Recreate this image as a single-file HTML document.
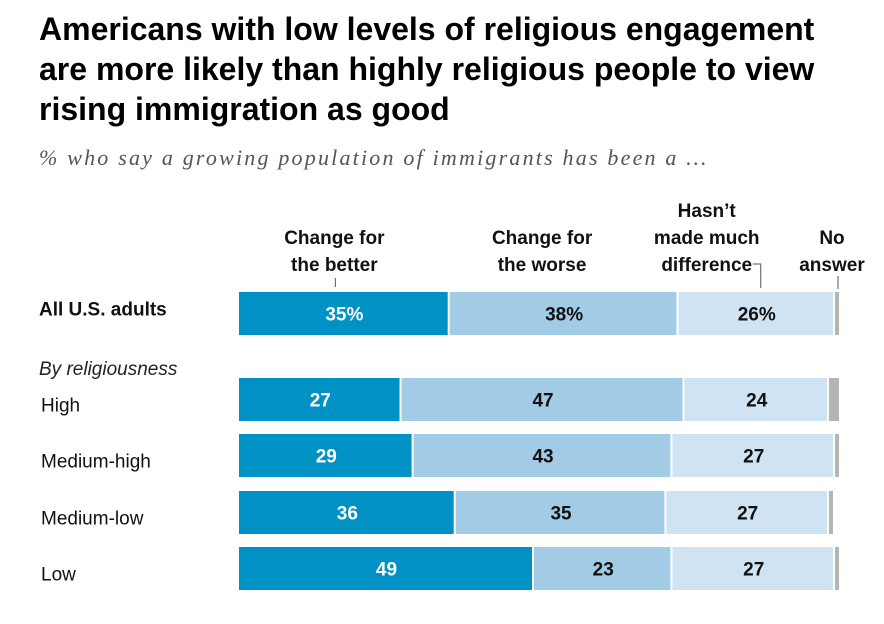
<!DOCTYPE html>
<html><head><meta charset="utf-8"><style>
body{margin:0;background:#fff;width:884px;height:624px;overflow:hidden;font-family:"Liberation Sans",sans-serif}
#title{position:absolute;left:39px;top:9px;font-size:32px;font-weight:bold;line-height:40px;color:#000;letter-spacing:0px;white-space:nowrap}
#sub{position:absolute;left:39px;top:145px;font-family:"Liberation Serif",serif;font-style:italic;font-size:22px;letter-spacing:2.2px;color:#555;white-space:nowrap}
</style></head><body>
<div id="title">Americans with low levels of religious engagement<br>are more likely than highly religious people to view<br>rising immigration as good</div>
<div id="sub">% who say a growing population of immigrants has been a …</div>
<svg id="chart" width="884" height="624" style="position:absolute;left:0;top:0"></svg>
<script>
const categories=["All U.S. adults","High","Medium-high","Medium-low","Low"];
const better=[35,27,29,36,49];
const worse=[38,47,43,35,23];
const noDiff=[26,24,27,27,27];
const noAnswer=[1,2,1,1,1];
const seriesNames=["Change for the better","Change for the worse","Hasn't made much difference","No answer"];
const svg=document.getElementById('chart');
const NS='http://www.w3.org/2000/svg';
const x0=239,scale=6.02;
const rowY=[292,378,434,491,547],barH=43;
function x(v){return x0+v*scale;}
function mk(tag,attrs){const e=document.createElementNS(NS,tag);for(const k in attrs)e.setAttribute(k,attrs[k]);svg.appendChild(e);return e;}
const colors=["#0091c5","#a2cbe5","#cfe3f2","#b5b5b5"];
const txtCol=["#fff","#111","#111",""];
const series=[better,worse,noDiff,noAnswer];
const keys=["better","worse","no-difference","no-answer"];
categories.forEach((c,i)=>{
  const lbl=mk('text',{x:i==0?39:41,y:rowY[i]+barH/2+(i==0?2:12),'font-size':19,'font-weight':i==0?'bold':'normal',fill:'#111'});
  lbl.textContent=c;
  
  
  let cum=0;
  series.forEach((s,j)=>{
    const v=s[i];
    const r=mk('rect',{x:x(cum),y:rowY[i],width:Math.max(v*scale-2,1),height:barH,fill:colors[j]});
    
    
    if(j<3){
      const t=mk('text',{x:x(cum+v/2),y:rowY[i]+barH/2+7,'text-anchor':'middle','font-size':19,'font-weight':'bold',fill:txtCol[j]});
      t.textContent=v+(i==0?'%':'');
      
      
    }
    cum+=v;
  });
});
const rl=mk('text',{x:39,y:375,'font-size':19,'font-style':'italic',fill:'#222'});
rl.textContent='By religiousness';


function head(lines,cx,yb,name){
  lines.forEach((l,k)=>{
    const t=mk('text',{x:cx,y:yb-(lines.length-1-k)*27,'text-anchor':'middle','font-size':19,'font-weight':'bold',fill:'#111'});
    t.textContent=l;
    
    
  });
}
head(["Change for","the better"],x(better[0]/2)-10,271,'legend-better');
head(["Change for","the worse"],x(better[0]+worse[0]/2)-22,271,'legend-worse');
head(["Hasn\u2019t","made much","difference"],x(better[0]+worse[0]+noDiff[0]/2)-50,271,'legend-no-difference');
head(["No","answer"],x(99)-3,271,'legend-no-answer');
mk('line',{x1:x(better[0]/2)-9,y1:278,x2:x(better[0]/2)-9,y2:287,stroke:'#555'});
mk('polyline',{points:`${x(87)-10},264 ${x(87)-2},264 ${x(87)-2},288`,fill:'none',stroke:'#555'});
mk('line',{x1:x(99.5),y1:276,x2:x(99.5),y2:289,stroke:'#555'});
</script>
</body></html>
